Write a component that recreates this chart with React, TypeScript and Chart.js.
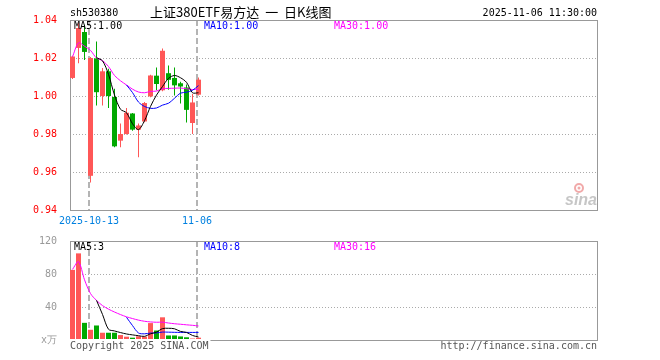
import React, { useEffect, useRef } from 'react';
import { Chart, registerables } from 'chart.js';

Chart.register(...registerables);

// ---------- data ----------
const dates = [
  '2025-09-30', '2025-10-09', '2025-10-10', '2025-10-13', '2025-10-14', '2025-10-15',
  '2025-10-16', '2025-10-17', '2025-10-20', '2025-10-21', '2025-10-22', '2025-10-23',
  '2025-10-24', '2025-10-27', '2025-10-28', '2025-10-29', '2025-10-30', '2025-10-31',
  '2025-11-03', '2025-11-04', '2025-11-05', '2025-11-06',
];
const openP = [1.0095, 1.0253, 1.0337, 0.958, 1.0198, 1.0, 1.013, 0.9995, 0.9765, 0.98, 0.9908, 0.9823, 0.9866, 0.9998, 1.0107, 1.003, 1.012, 1.0095, 1.0067, 1.0045, 0.9858, 1.0007];
const closeP = [1.0208, 1.0358, 1.0232, 1.02, 1.002, 1.013, 1.0, 0.9735, 0.98, 0.9912, 0.9823, 0.9845, 0.9963, 1.0108, 1.0063, 1.0238, 1.0085, 1.0056, 1.005, 0.9927, 0.9966, 1.0086];
const highP = [1.0212, 1.0385, 1.0375, 1.0205, 1.0287, 1.0147, 1.0144, 1.0038, 0.9855, 0.9937, 0.991, 0.9855, 0.9968, 1.0112, 1.015, 1.025, 1.016, 1.015, 1.0075, 1.006, 1.001, 1.0098];
const lowP = [1.009, 1.0172, 1.019, 0.9545, 0.995, 0.995, 0.9937, 0.973, 0.973, 0.9798, 0.9817, 0.9677, 0.9862, 0.9993, 1.003, 1.0025, 1.0033, 1.0003, 0.996, 0.986, 0.98, 1.0003];

const maP5 = [null, null, null, null, 1.0202, 1.0185, 1.0114, 1.0005, 0.993, 0.9912, 0.9854, 0.9823, 0.987, 0.9945, 1.0005, 1.005, 1.0093, 1.0108, 1.0096, 1.0072, 1.0017, 1.0017];
const maP10 = [null, null, null, null, null, null, null, null, null, 1.0058, 1.0018, 0.9968, 0.9945, 0.9935, 0.9937, 0.9952, 0.9962, 0.9988, 1.0015, 1.002, 1.003, 1.0055];
const maP30 = [1.0206, 1.028, 1.0262, 1.024, 1.02, 1.0186, 1.0155, 1.0108, 1.008, 1.0058, 1.0036, 1.0021, 1.0017, 1.0024, 1.0026, 1.0038, 1.004, 1.0041, 1.0042, 1.0038, 1.0034, 1.0036];

const volume = [85, 105, 20.8, 12.4, 17.6, 8.8, 8.8, 8.8, 6, 4, 2.8, 4.5, 4, 20.5, 11.5, 27.5, 5.5, 5.5, 4.3, 3.3, 1.8, 2.8];
const maV5 = [null, null, null, null, 48, 31, 13, 11, 9, 7.3, 6.2, 5.2, 4.4, 7.5, 9.5, 13.8, 14.2, 13.6, 10.4, 9.2, 5.5, 3.6];
const maV10 = [null, null, null, null, null, null, null, null, null, 27.5, 17.5, 8.5, 7.5, 8.4, 8.6, 9.6, 9.5, 9.3, 9.2, 9.2, 9.2, 9.2];
const maV30 = [85.6, 95, 73, 56.3, 48, 41.7, 37.4, 33.9, 30.8, 28.1, 26, 24.1, 22.7, 21.9, 21.5, 21.6, 20.6, 19.7, 19.1, 18.4, 17.8, 17.0];

const priceTicks = [0.94, 0.96, 0.98, 1.0, 1.02, 1.04];
const volTicks = [0, 40, 80, 120];
const dateTickIdx = [3, 21];
const dateTickLabels = ['2025-10-13', '11-06'];

const symbolText = 'sh530380';
const titleText = '上证380ETF易方达 一 日K线图';
const timeText = '2025-11-06 11:30:00';
const priceMaLabels = ['MA5:1.00', 'MA10:1.00', 'MA30:1.00'];
const volMaLabels = ['MA5:3', 'MA10:8', 'MA30:16'];
const volUnit = 'x万';
const copyrightText = 'Copyright 2025 SINA.COM';
const urlText = 'http://finance.sina.com.cn';

// ---------- style ----------
const RED = '#ff5757';
const GREEN = '#00a800';
const MA_COLORS = ['#000000', '#0000ff', '#ff00ff'];
const MONO = '"DejaVu Sans Mono", "Liberation Mono", monospace';
const SLOTS = 88;
const X_MIN = -0.4167;
const X_MAX = X_MIN + SLOTS;
const MA_LABEL_X = [74, 204, 334];

const candleColors = openP.map((o, i) => (closeP[i] >= o ? RED : GREEN));

function maLine(label: string, arr: (number | null)[], color: string) {
  return {
    type: 'line' as const,
    label,
    data: arr.map((v, i) => ({ x: i, y: v })).filter((p) => p.y !== null),
    borderColor: color,
    borderWidth: 1,
    pointRadius: 0,
    tension: 0.3,
    fill: false,
    order: 0,
  };
}

function drawPanelDecor(chart: any, ticks: number[]) {
  const { ctx, chartArea: a, scales } = chart;
  const xs = scales.x;
  const ys = scales.y;
  ctx.save();
  ctx.strokeStyle = '#aaaaaa';
  ctx.lineWidth = 1;
  ctx.setLineDash([1, 2]);
  ticks.forEach((v, k) => {
    if (k === 0 || k === ticks.length - 1) return;
    const py = Math.round(ys.getPixelForValue(v)) + 0.5;
    ctx.beginPath();
    ctx.moveTo(a.left, py);
    ctx.lineTo(a.right, py);
    ctx.stroke();
  });
  ctx.setLineDash([6, 3]);
  ctx.strokeStyle = '#b4b4b4';
  ctx.lineWidth = 2;
  dateTickIdx.forEach((i) => {
    const px = Math.round(xs.getPixelForValue(i)) - 2;
    ctx.beginPath();
    ctx.moveTo(px, a.top);
    ctx.lineTo(px, a.bottom);
    ctx.stroke();
  });
  ctx.setLineDash([]);
  ctx.strokeStyle = '#999999';
  ctx.lineWidth = 1;
  ctx.strokeRect(a.left + 0.5, a.top + 0.5, a.right - a.left - 1, a.bottom - a.top);
  ctx.restore();
}

const pricePlugin = {
  id: 'priceDecor',
  beforeDatasetsDraw(chart: any) {
    drawPanelDecor(chart, priceTicks);
    const { ctx, chartArea: a } = chart;
    ctx.save();
    ctx.globalAlpha = 0.45;
    ctx.strokeStyle = '#e04040';
    ctx.lineWidth = 2;
    ctx.beginPath();
    ctx.arc(a.right - 19, a.bottom - 22, 4, 0, Math.PI * 2);
    ctx.stroke();
    ctx.fillStyle = '#e04040';
    ctx.beginPath();
    ctx.arc(a.right - 19, a.bottom - 22, 1.5, 0, Math.PI * 2);
    ctx.fill();
    ctx.fillStyle = '#808080';
    ctx.font = 'italic bold 16px "Liberation Sans", Arial, sans-serif';
    ctx.textAlign = 'right';
    ctx.textBaseline = 'alphabetic';
    ctx.fillText('sina', a.right - 1, a.bottom - 5);
    ctx.restore();
  },
  afterDraw(chart: any) {
    const { ctx, chartArea: a, scales } = chart;
    ctx.save();
    ctx.textBaseline = 'middle';
    ctx.font = `10px ${MONO}`;
    ctx.fillStyle = '#000';
    ctx.textAlign = 'left';
    ctx.fillText(symbolText, 70, 13);
    ctx.textAlign = 'right';
    ctx.fillText(timeText, 597, 13);
    ctx.textAlign = 'left';
    ctx.font = '13px "Noto Sans CJK SC", sans-serif';
    (ctx as any).wordSpacing = '3px';
    ctx.fillText(titleText, 150, 12);
    (ctx as any).wordSpacing = '0px';
    ctx.font = `10px ${MONO}`;
    priceMaLabels.forEach((t, k) => {
      ctx.fillStyle = MA_COLORS[k];
      ctx.fillText(t, MA_LABEL_X[k], a.top + 6);
    });
    ctx.fillStyle = '#0080e0';
    ctx.textAlign = 'center';
    dateTickIdx.forEach((i, k) => {
      const px = Math.round(scales.x.getPixelForValue(i)) - 2;
      ctx.fillText(dateTickLabels[k], px, a.bottom + 11);
    });
    ctx.restore();
  },
};

const volPlugin = {
  id: 'volDecor',
  beforeDatasetsDraw(chart: any) {
    drawPanelDecor(chart, volTicks);
  },
  afterDraw(chart: any) {
    const { ctx, chartArea: a } = chart;
    ctx.save();
    ctx.textBaseline = 'middle';
    ctx.font = `10px ${MONO}`;
    ctx.textAlign = 'left';
    volMaLabels.forEach((t, k) => {
      ctx.fillStyle = MA_COLORS[k];
      ctx.fillText(t, MA_LABEL_X[k], a.top + 6);
    });
    const w = ctx.measureText(copyrightText).width;
    ctx.fillStyle = '#ffffff';
    ctx.fillRect(a.left, a.bottom - 1, w + 2, 13);
    ctx.fillStyle = '#555555';
    ctx.fillText(copyrightText, a.left, a.bottom + 6);
    ctx.textAlign = 'right';
    ctx.fillText(urlText, 597, a.bottom + 6);
    ctx.restore();
  },
};

function yAxis(min: number, max: number, ticks: number[], color: string, fmt: (v: number) => string) {
  return {
    type: 'linear' as const,
    min,
    max,
    afterFit: (s: any) => {
      s.width = 70;
    },
    afterBuildTicks: (s: any) => {
      s.ticks = ticks.map((v) => ({ value: v }));
    },
    grid: { display: false },
    border: { display: false },
    ticks: {
      color,
      padding: 5,
      font: { family: MONO, size: 10 },
      callback: (v: any) => fmt(Number(v)),
    },
  };
}

export default function App() {
  const priceRef = useRef<HTMLCanvasElement>(null);
  const volRef = useRef<HTMLCanvasElement>(null);

  useEffect(() => {
    const xScale = { type: 'linear' as const, min: X_MIN, max: X_MAX, offset: false, display: false };
    const priceChart = new Chart(priceRef.current as HTMLCanvasElement, {
      type: 'bar',
      data: {
        datasets: [
          maLine('MA5', maP5, MA_COLORS[0]),
          maLine('MA10', maP10, MA_COLORS[1]),
          maLine('MA30', maP30, MA_COLORS[2]),
          {
            type: 'bar',
            label: 'body',
            data: dates.map((_, i) => ({ x: i, y: [openP[i], closeP[i]] })),
            backgroundColor: candleColors,
            barThickness: 5,
            grouped: false,
            borderWidth: 0,
            inflateAmount: 0,
            order: 2,
          } as any,
          {
            type: 'bar',
            label: 'wick',
            data: dates.map((_, i) => ({ x: i, y: [lowP[i], highP[i]] })),
            backgroundColor: candleColors,
            barThickness: 1,
            grouped: false,
            borderWidth: 0,
            inflateAmount: 0,
            order: 3,
          } as any,
        ],
      },
      options: {
        responsive: false,
        animation: false,
        events: [],
        layout: { padding: { left: 0, right: 62, top: 20, bottom: 20 } },
        plugins: { legend: { display: false }, tooltip: { enabled: false } },
        scales: {
          x: xScale,
          y: yAxis(0.94, 1.04, priceTicks, '#ff0000', (v) => v.toFixed(2)),
        },
      } as any,
      plugins: [pricePlugin],
    });

    const volChart = new Chart(volRef.current as HTMLCanvasElement, {
      type: 'bar',
      data: {
        datasets: [
          maLine('MA5', maV5, MA_COLORS[0]),
          maLine('MA10', maV10, MA_COLORS[1]),
          maLine('MA30', maV30, MA_COLORS[2]),
          {
            type: 'bar',
            label: 'vol',
            data: dates.map((_, i) => ({ x: i, y: volume[i] })),
            backgroundColor: candleColors,
            barThickness: 5,
            grouped: false,
            borderWidth: 0,
            inflateAmount: 0,
            order: 2,
          } as any,
        ],
      },
      options: {
        responsive: false,
        animation: false,
        events: [],
        layout: { padding: { left: 0, right: 62, top: 10, bottom: 20 } },
        plugins: { legend: { display: false }, tooltip: { enabled: false } },
        scales: {
          x: xScale,
          y: yAxis(0, 120, volTicks, '#999999', (v) => (v === 0 ? volUnit : String(v))),
        },
      } as any,
      plugins: [volPlugin],
    });

    return () => {
      priceChart.destroy();
      volChart.destroy();
    };
  }, []);

  return (
    <div style={{ position: 'absolute', left: 0, top: 0, width: 660, height: 360, background: '#fff' }}>
      <canvas ref={priceRef} width={660} height={230} style={{ position: 'absolute', left: 0, top: 0 }} />
      <canvas ref={volRef} width={660} height={130} style={{ position: 'absolute', left: 0, top: 230 }} />
    </div>
  );
}
